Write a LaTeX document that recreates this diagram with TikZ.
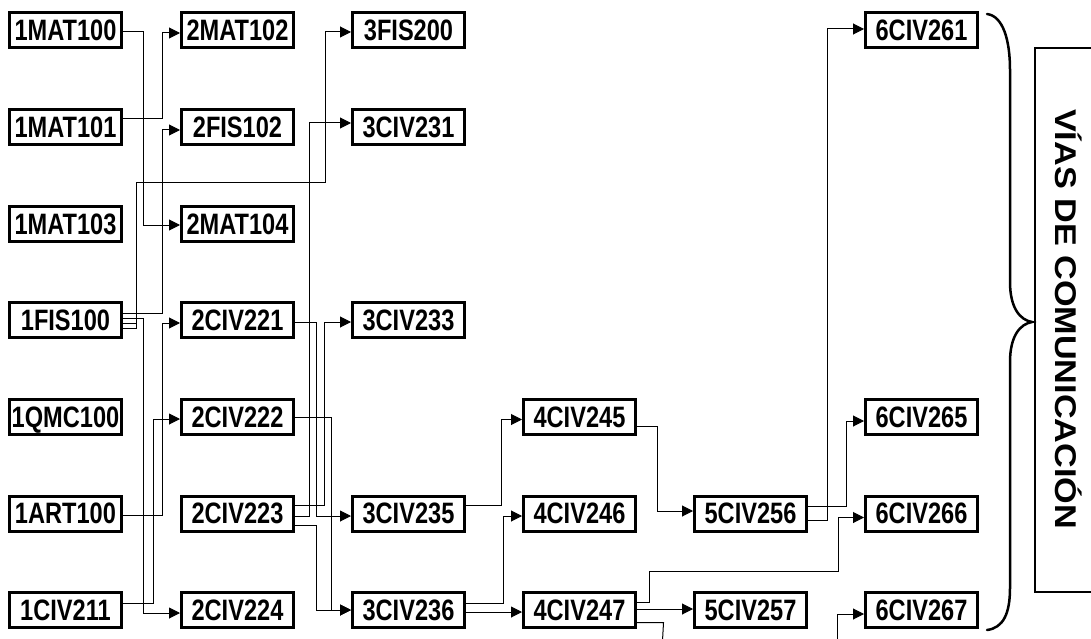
\documentclass[tikz,border=0pt]{standalone}
\usepackage{fontspec}
\setmainfont{Liberation Sans}
\newfontfamily\boxfont{Liberation Sans}[FakeStretch=0.8]
\newfontfamily\vfont{Liberation Sans}[FakeStretch=1.14]
\usetikzlibrary{arrows.meta}
\begin{document}
\begin{tikzpicture}[x=1pt,y=-1pt,
  course/.style={draw, line width=3pt, minimum width=112pt, minimum height=35pt,
    inner sep=0pt, text height=20.8pt, text depth=0pt,
    font=\boxfont\bfseries\fontsize{29.5pt}{29.5pt}\selectfont},
  conn/.style={line width=1pt, -{Triangle[length=11pt,width=11pt]}},
  wire/.style={line width=1pt},
  bracestyle/.style={line width=2.5pt, line cap=round},
  framestyle/.style={line width=1.2pt}]
\useasboundingbox (0,0) rectangle (1091,639);
% column 1
\node[course] (m100) at (65.5,30)    {1MAT100};
\node[course] (m101) at (65.5,127)   {1MAT101};
\node[course] (m103) at (65.5,224)   {1MAT103};
\node[course] (f100) at (65.5,320)   {1FIS100};
\node[course] (q100) at (65.5,417)   {1QMC100};
\node[course] (art)  at (65.5,513.5) {1ART100};
\node[course] (c211) at (65.5,610)   {1CIV211};
% column 2
\node[course] (m102) at (237.5,30)    {2MAT102};
\node[course] (f102) at (237.5,127)   {2FIS102};
\node[course] (m104) at (237.5,224)   {2MAT104};
\node[course] (c221) at (237.5,320)   {2CIV221};
\node[course] (c222) at (237.5,417)   {2CIV222};
\node[course] (c223) at (237.5,513.5) {2CIV223};
\node[course] (c224) at (237.5,610)   {2CIV224};
% column 3
\node[course] (f200) at (408.5,30)    {3FIS200};
\node[course] (c231) at (408.5,127)   {3CIV231};
\node[course] (c233) at (408.5,320)   {3CIV233};
\node[course] (c235) at (408.5,513.5) {3CIV235};
\node[course] (c236) at (408.5,610)   {3CIV236};
% column 4
\node[course] (c245) at (579.5,417)   {4CIV245};
\node[course] (c246) at (579.5,513.5) {4CIV246};
\node[course] (c247) at (579.5,610)   {4CIV247};
% column 5
\node[course] (c256) at (750.5,513.5) {5CIV256};
\node[course] (c257) at (750.5,610)   {5CIV257};
% column 6
\node[course] (c261) at (921.5,30)    {6CIV261};
\node[course] (c265) at (921.5,417)   {6CIV265};
\node[course] (c266) at (921.5,513.5) {6CIV266};
\node[course] (c267) at (921.5,610)   {6CIV267};
% free ends below the picture
\coordinate (bot1) at (662,650);
\coordinate (bot2) at (837,650);
% column 1 -> 2 / 3
\draw[conn] ([yshift=-2pt]m100.east) -- ++(20.5,0) |- ([yshift=-1pt]m104.west);
\draw[conn] ([yshift=8pt]m101.east) -- ++(39.5,0) |- ([yshift=-3pt]m102.west);
\draw[conn] ([yshift=7pt]f100.east) -- ++(39.5,0) |- ([yshift=-3pt]f102.west);
\draw[conn] ([yshift=2pt]f100.east) -- ++(20.5,0) |- ([yshift=-3pt]c224.west);
\draw[wire] ([yshift=-3pt]f100.east) -- ++(13.5,0);
\draw[conn] ([yshift=-8pt]f100.east) -- ++(13.5,0) |- (325,182) |- ([yshift=-2pt]f200.west);
\draw[conn] ([yshift=-1.5pt]art.east) -- ++(39.5,0) |- ([yshift=-3pt]c221.west);
\draw[conn] ([yshift=7pt]c211.east) -- ++(30.5,0) |- ([yshift=-2pt]c222.west);
% column 2 -> 3
\draw[conn] ([yshift=-2.5pt]c223.east) -- ++(14.5,0) |- ([yshift=4pt]c231.west);
\draw[conn] ([yshift=8.5pt]c223.east) -- ++(29.5,0) |- ([yshift=-2pt]c233.west);
\draw[conn] ([yshift=-2pt]c221.east) -- ++(21.5,0) |- ([yshift=-2.5pt]c235.west);
\draw[conn] ([yshift=-11.5pt]c223.east) -- ++(21.5,0) |- (c236.west);
\draw[conn] (c222.east) -- ++(36.5,0) |- (c236.west);
% column 3 -> 4
\draw[conn] ([yshift=8.5pt]c235.east) -- ++(35.5,0) |- ([yshift=-2.5pt]c245.west);
\draw[conn] ([yshift=7pt]c236.east) -- ++(37.5,0) |- ([yshift=-2.5pt]c246.west);
\draw[conn] ([yshift=-2pt]c236.east) -- ([yshift=-2pt]c247.west);
% column 4 -> 5 / 6
\draw[conn] ([yshift=-9pt]c245.east) -- ++(20.5,0) |- ([yshift=2.5pt]c256.west);
\draw[conn] ([yshift=1pt]c247.east) -- ([yshift=1pt]c257.west);
\draw[conn] ([yshift=7.5pt]c247.east) -- ++(12.5,0) |- (838,571) |- ([yshift=-4pt]c266.west);
\draw[wire] ([yshift=-12.5pt]c247.east) -- ++(26.5,0) -- (bot1);
\draw[conn] (bot2) |- ([yshift=-4pt]c267.west);
% column 5 -> 6
\draw[conn] ([yshift=7pt]c256.east) -- ++(38.5,0) |- ([yshift=-4pt]c265.west);
\draw[conn] ([yshift=-6.5pt]c256.east) -- ++(19,0) |- ([yshift=1pt]c261.west);
% brace
\draw[bracestyle] (987,14) .. controls (1003,16) and (1010,40) .. (1010,70)
  -- (1010,282) .. controls (1010,308) and (1020,320) .. (1032,322)
  .. controls (1020,324) and (1010,336) .. (1010,362)
  -- (1010,588) .. controls (1010,614) and (1003,628) .. (987,630);
% frame with title
\draw[framestyle] (1035,48) rectangle (1120,592);
\node[rotate=-90, inner sep=0pt, text height=21.5pt, text depth=0pt,
  font=\vfont\bfseries\fontsize{30pt}{30pt}\selectfont] (title) at (1066,319) {VÍAS DE COMUNICACIÓN};
\end{tikzpicture}
\end{document}
